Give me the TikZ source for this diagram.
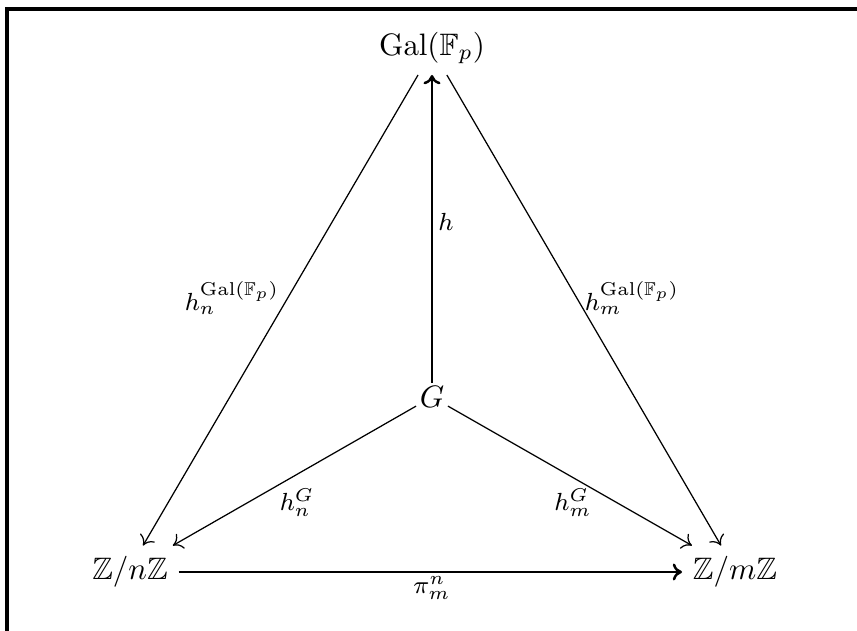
\documentclass[tikz,border=0pt]{standalone}
\usepackage{amsmath, amssymb}
\usepackage{tikz}
\usetikzlibrary{arrows.meta,calc}
\tikzset{
  obj/.style={inner sep=3.33pt},
  lbl/.style={inner sep=0pt,font=\footnotesize},
  heavy/.style={line width=0.8pt},
}

\begin{document}
\begin{tikzpicture}[>={To[length=3pt,width=5.5pt]},line width=0.4pt,
  x=0.3226pt,y=-0.3226pt]
  \useasboundingbox (0,0) rectangle (857,631);
  \draw[line width=1pt] (857,9) -- (7,9) -- (7,631);
  % objects
  \node[obj] (Gal) at (432,48) {$\mathrm{Gal}(\mathbb{F}_p)$};
  \node[inner sep=1pt] (G) at (432,397) {$G$};
  \node[obj] (Zn) at (130,572) {$\mathbb{Z}/n\mathbb{Z}$};
  \node[obj] (Zm) at (735,572) {$\mathbb{Z}/m\mathbb{Z}$};
  % maps
  \draw[->,heavy] (G) -- (Gal);
  \draw[->,heavy] (Zn) -- (Zm);
  \draw[->] ([xshift=-4.5pt]Gal.south) -- ([xshift=4.2pt]Zn.north);
  \draw[->] ([xshift=4.8pt]Gal.south) -- ([xshift=-4.5pt]Zm.north);
  \draw[->] (G) -- ([xshift=-1.9pt]Zn.north east);
  \draw[->] (G) -- ([xshift=3.2pt]Zm.north west);
  % labels
  \node[lbl] (h) at (446,222) {$h$};
  \node[lbl] (hnGal) at (232,298) {$h_n^{\mathrm{Gal}(\mathbb{F}_p)}$};
  \node[lbl] (hmGal) at (632,298) {$h_m^{\mathrm{Gal}(\mathbb{F}_p)}$};
  \node[lbl] (hnG) at (297,503) {$h_n^G$};
  \node[lbl] (hmG) at (573,503) {$h_m^G$};
  \node[lbl] (pi) at (432,588) {$\pi_m^n$};
\end{tikzpicture}
\end{document}
